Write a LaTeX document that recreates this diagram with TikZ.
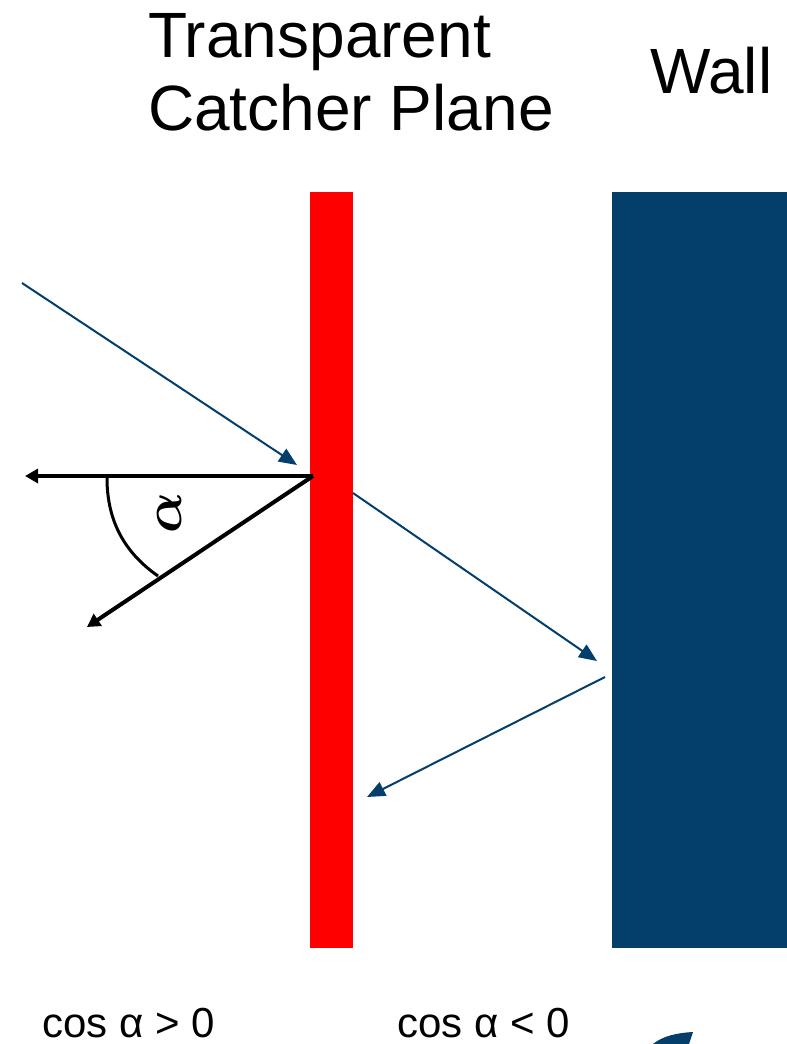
\documentclass[tikz,border=0pt]{standalone}
\usepackage{bm}
\usepackage{fontspec}
\setmainfont{Liberation Sans}
\usetikzlibrary{arrows.meta}
\definecolor{wallblue}{RGB}{4,62,107}
\begin{document}
\begin{tikzpicture}[x=1pt,y=-1pt, line join=round,
        ray/.style={wallblue, line width=2pt, -{Triangle[length=18pt,width=15pt]}},
        dirarrow/.style={black, line width=4pt, -{Triangle[length=13pt,width=14pt]}},
        title/.style={font=\fontsize{64}{72}\selectfont, inner sep=0pt, anchor=base west},
        cond/.style={font=\fontsize{42}{42}\selectfont, inner sep=0pt, anchor=base west}]
        \useasboundingbox (0,0) rectangle (787,1044);
        \fill[red] (310,192) rectangle (353,948);
        \fill[wallblue] (612,192) rectangle (787,948);
        \node[title] (tline1) at (148,57) {Transparent};
        \node[title] (tline2) at (148,130) {Catcher Plane};
        \node[title] (wall) at (650,93) {Wall};
        \node[cond] (cpos) at (42,1037) {cos α > 0};
        \node[cond] (cneg) at (397,1037) {cos α < 0};
        \coordinate (src) at (22,283);
        \coordinate (hitin) at (297,465);
        \coordinate (hit) at (313,476);
        \coordinate (out) at (353,493);
        \coordinate (wallin) at (597,661);
        \coordinate (wallout) at (605,677);
        \coordinate (back) at (367,797);
        \coordinate (normal) at (25,476);
        \coordinate (dir) at (87,627);
        \draw[ray] (src) -- (hitin);
        \draw[ray] (out) -- (wallin);
        \draw[ray] (wallout) -- (back);
        \draw[dirarrow] (hit) -- (normal);
        \draw[dirarrow] (hit) -- (dir);
        \draw[line width=3pt] (107,478) .. controls (107,525) and (128,555) .. (158,576);
        \node[rotate=90, inner sep=0pt] (alpha) at (169,513) {\scalebox{5.4}{$\bm{\alpha}$}};
        \fill[wallblue] (653,1044) .. controls (663,1036) and (676,1033) .. (693,1032) -- (689,1044) -- cycle;
    \end{tikzpicture}
\end{document}
